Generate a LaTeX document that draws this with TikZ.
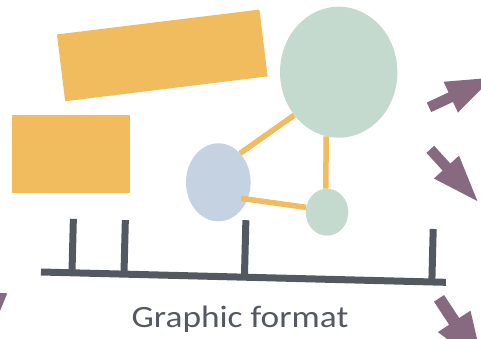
\documentclass[tikz,border=0pt]{standalone}
\usepackage[dvipsnames]{xcolor}
\usepackage{fontspec}
\newfontfamily\labelfont{Carlito}[FakeStretch=1.14]
\usetikzlibrary{shapes.geometric}

\definecolor{amber}{HTML}{F0BC5E}
\definecolor{sage}{HTML}{C5DACE}
\definecolor{mist}{HTML}{C5D2E1}
\definecolor{plum}{HTML}{876A80}
\definecolor{slate}{HTML}{545861}

\begin{document}
\begin{tikzpicture}[x=1pt,y=-1pt,line cap=butt,
    main node/.style={ellipse,draw=none,inner sep=0pt},
    plate/.style={fill=amber,draw=none,inner sep=0pt},
    link/.style={draw=amber,line width=5.5pt},
    axis line/.style={draw=slate,line width=7pt},
    big arrow/.pic={\fill[plum] (0,-5.25) -- (24,-5.25) -- (24,-17) -- (70,0) -- (24,17) -- (24,5.25) -- (0,5.25) -- cycle;}]

            \useasboundingbox (0,0) rectangle (481,338);
            \clip (0,0) rectangle (481,338);

            % yellow blocks
            \node[plate, minimum width=204pt, minimum height=67.3pt, rotate=7] (r) at (162.3,55.4) {};
            \node[plate, minimum width=118pt, minimum height=77.7pt] (q) at (71,153.9) {};

            % the three blobs
            \node[main node, fill=sage, minimum width=117.4pt, minimum height=131pt] (g) at (338.7,72.2) {};
            \node[main node, fill=mist, minimum width=64.6pt, minimum height=78pt] (b) at (218.3,182.3) {};
            \node[main node, fill=sage, minimum width=42.6pt, minimum height=47pt] (s) at (327,212.2) {};

            \path[link]
                (b.53) edge (g.224)
                (g.259) edge (s.93)
                (b.-30) edge[shorten <=-6.5pt] (s.167)
                ;

            % axis
            \begin{scope}[shift={(41,272)}, rotate=-1.46]
                \draw[axis line] (0,0) -- (405,0);
                \foreach \x/\h in {31/54, 83/54, 203.5/57, 391/53}
                    \draw[axis line] (\x,0) -- (\x,-\h);
            \end{scope}

            \node[text=slate, font=\labelfont\fontsize{31}{31}\selectfont, anchor=base, inner sep=0pt] (t) at (240,327) {Graphic format};

            % arrows at the edges
            \pic[rotate=25] at (429,107.3) {big arrow};
            \pic[rotate=-47.7] at (430.3,149.3) {big arrow};
            \pic[rotate=-56.7, scale=1.15] at (439,298.3) {big arrow};
            \pic[rotate=-92] at (-8.9,268.7) {big arrow};
        \end{tikzpicture}
\end{document}
